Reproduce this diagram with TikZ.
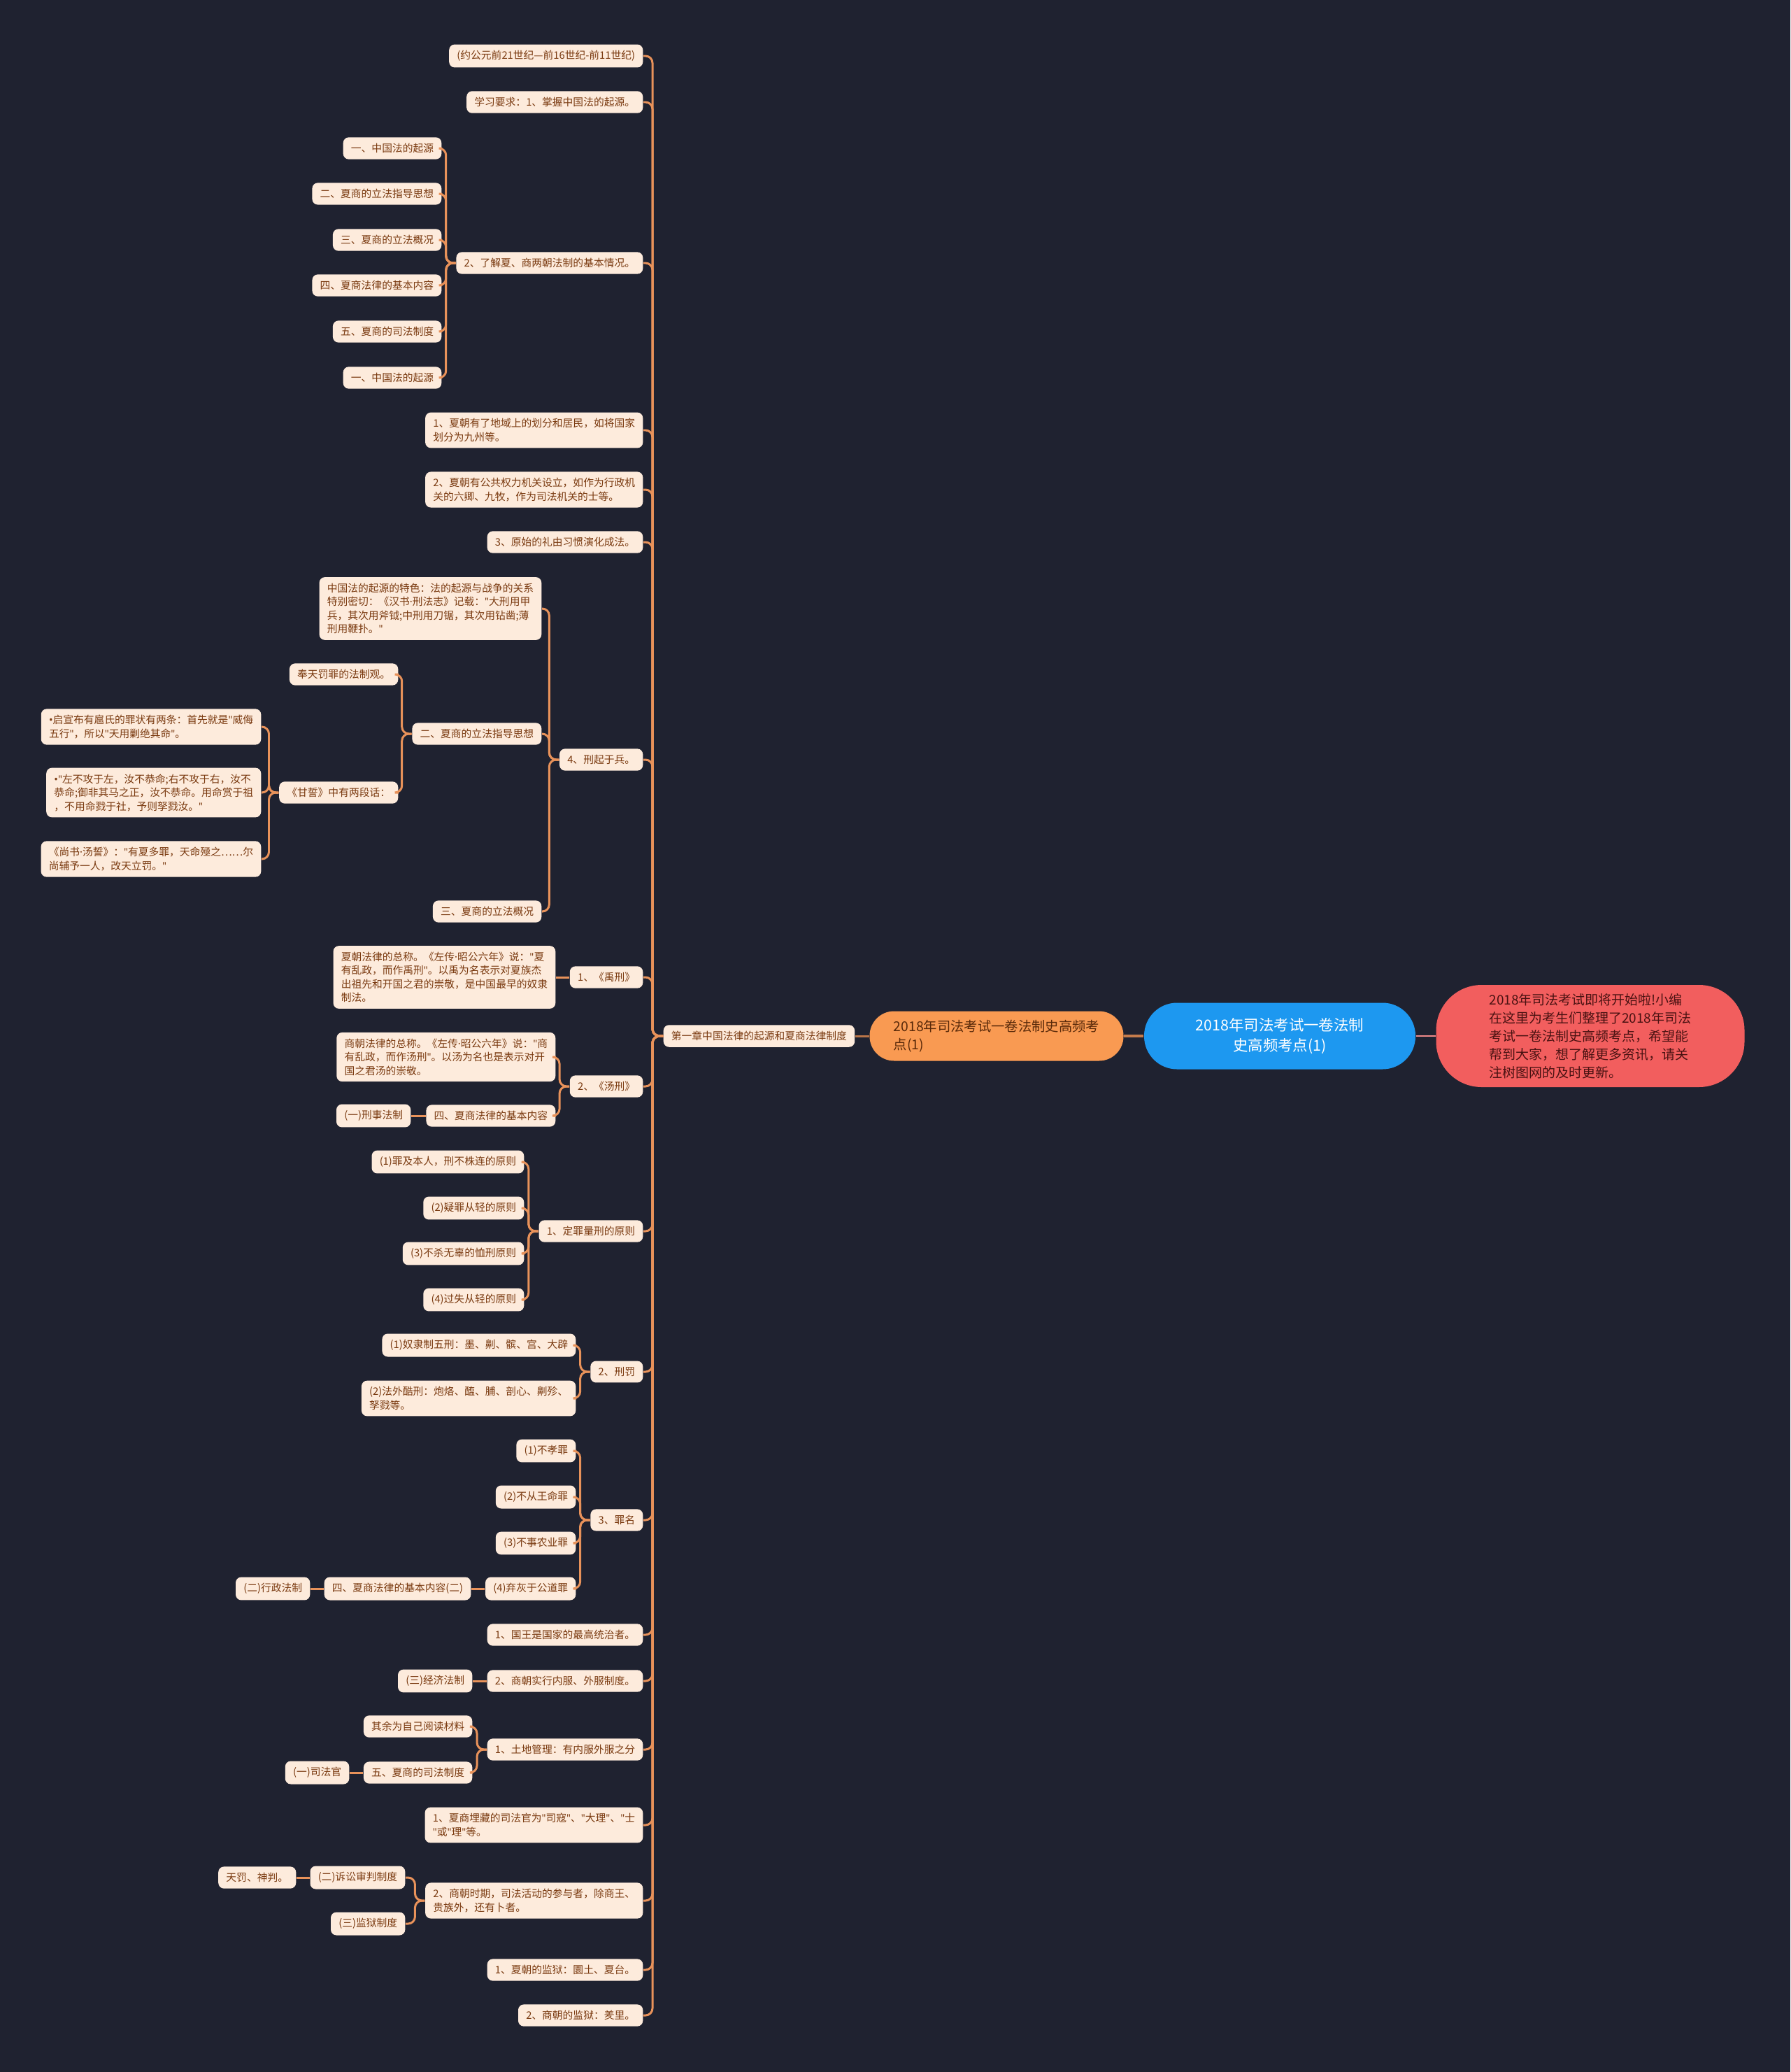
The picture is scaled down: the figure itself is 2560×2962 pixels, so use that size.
\documentclass[tikz,border=0pt]{standalone}
\usepackage{fontspec}
\setmainfont{Noto Sans CJK SC}
\newfontfamily\latinfont{Noto Sans}

\definecolor{bgcol}{HTML}{1F2230}
\definecolor{leaffill}{HTML}{FDEBDC}
\definecolor{leaftext}{HTML}{7A3A10}
\definecolor{linkcol}{HTML}{E8925A}
\definecolor{topicfill}{HTML}{F99A52}
\definecolor{topictext}{HTML}{5A2A0A}
\definecolor{rootfill}{HTML}{1D98F0}
\definecolor{notefill}{HTML}{F25E5E}
\definecolor{notetext}{HTML}{4A1212}
\definecolor{notelink}{HTML}{F08A8A}

\newcommand{\leaffont}{\fontsize{4.2pt}{5.55pt}\selectfont}
\newcommand{\topicfont}{\fontsize{5.5pt}{7.4pt}\selectfont}
\newcommand{\rootfont}{\fontsize{6.1pt}{8.2pt}\selectfont}
\newcommand{\notefont}{\fontsize{5.4pt}{7.4pt}\selectfont}
% narrow quote, middle dot and bullet
\newcommand{\qq}{{\latinfont"}}
\newcommand{\mdot}{{\latinfont·}}
\newcommand{\bul}{{\latinfont•}}

\begin{document}
\begin{tikzpicture}[x=0.1mm, y=-0.1mm,
    leaf/.style={fill=leaffill, text=leaftext, rounded corners=0.8mm, inner xsep=3.2pt, inner ysep=2.5pt, font=\leaffont, align=left},
    link/.style={draw=linkcol, line width=0.85pt, rounded corners=1mm}]
    % Background
    \fill[bgcol] (0,0) rectangle (2560,2962);
    \useasboundingbox (0,0) rectangle (2560,2962);

    % Centre chain
    \node[fill=notefill, text=notetext, rounded corners=6.5mm, minimum width=44.1mm, minimum height=14.6mm, font=\notefont, align=left] (note) at (2274,1481) {2018年司法考试即将开始啦!小编\\在这里为考生们整理了2018年司法\\考试一卷法制史高频考点，希望能\\帮到大家，想了解更多资讯，请关\\注树图网的及时更新。};
    \node[fill=rootfill, text=white, rounded corners=4.7mm, minimum width=38.8mm, minimum height=9.5mm, font=\rootfont, align=center] (root) at (1830,1481) {2018年司法考试一卷法制\\史高频考点(1)};
    \node[fill=topicfill, text=topictext, rounded corners=3.5mm, minimum width=36.3mm, minimum height=7.1mm, font=\topicfont, align=left] (topic) at (1425,1481) {2018年司法考试一卷法制史高频考\\点(1)};
    \node[leaf, anchor=west] (ch) at (948,1481) {第一章中国法律的起源和夏商法律制度};

    \draw[draw=notelink, line width=0.6pt] (root.east) -- (note.west);
    \draw[link, draw=linkcol!85!black, line width=1.1pt] (topic.east) -- (root.west);
    \draw[link, draw=linkcol!80!black] (ch.east) -- (topic.west);

    % Trunk children
    \node[leaf, anchor=east] (t1) at (920,80) {(约公元前21世纪—前16世纪-前11世纪)};
    \node[leaf, anchor=east] (t2) at (920,146) {学习要求：1、掌握中国法的起源。};
    \node[leaf, anchor=east] (t3) at (920,376) {2、了解夏、商两朝法制的基本情况。};
    \node[leaf, anchor=east] (t4) at (920,615) {1、夏朝有了地域上的划分和居民，如将国家\\划分为九州等。};
    \node[leaf, anchor=east] (t5) at (920,700) {2、夏朝有公共权力机关设立，如作为行政机\\关的六卿、九牧，作为司法机关的士等。};
    \node[leaf, anchor=east] (t6) at (920,775) {3、原始的礼由习惯演化成法。};
    \node[leaf, anchor=east] (t7) at (920,1086) {4、刑起于兵。};
    \node[leaf, anchor=east] (t8) at (920,1397) {1、《禹刑》};
    \node[leaf, anchor=east] (t9) at (920,1553) {2、《汤刑》};
    \node[leaf, anchor=east] (t10) at (920,1760) {1、定罪量刑的原则};
    \node[leaf, anchor=east] (t11) at (920,1961) {2、刑罚};
    \node[leaf, anchor=east] (t12) at (920,2173) {3、罪名};
    \node[leaf, anchor=east] (t13) at (920,2337) {1、国王是国家的最高统治者。};
    \node[leaf, anchor=east] (t14) at (920,2403) {2、商朝实行内服、外服制度。};
    \node[leaf, anchor=east] (t15) at (920,2501) {1、土地管理：有内服外服之分};
    \node[leaf, anchor=east] (t16) at (920,2609) {1、夏商埋藏的司法官为\qq 司寇\qq 、\qq 大理\qq 、\qq 士\\\qq 或\qq 理\qq 等。};
    \node[leaf, anchor=east] (t17) at (920,2717) {2、商朝时期，司法活动的参与者，除商王、\\贵族外，还有卜者。};
    \node[leaf, anchor=east] (t18) at (920,2816) {1、夏朝的监狱：圜土、夏台。};
    \node[leaf, anchor=east] (t19) at (920,2881) {2、商朝的监狱：羑里。};

    \foreach \n in {t1,t2,t3,t4,t5,t6,t7,t8,t9,t10,t11,t12,t13,t14,t15,t16,t17,t18,t19}
        \draw[link] (ch.west) -- ++(-15,0) |- (\n.east);

    % 2、了解夏、商两朝法制
    \node[leaf, anchor=east] (a1) at (632,212) {一、中国法的起源};
    \node[leaf, anchor=east] (a2) at (632,277) {二、夏商的立法指导思想};
    \node[leaf, anchor=east] (a3) at (632,343) {三、夏商的立法概况};
    \node[leaf, anchor=east] (a4) at (632,408) {四、夏商法律的基本内容};
    \node[leaf, anchor=east] (a5) at (632,474) {五、夏商的司法制度};
    \node[leaf, anchor=east] (a6) at (632,540) {一、中国法的起源};
    \foreach \n in {a1,a2,a3,a4,a5,a6}
        \draw[link] (t3.west) -- ++(-14,0) |- (\n.east);

    % 4、刑起于兵
    \node[leaf, anchor=east] (b1) at (775,870) {中国法的起源的特色：法的起源与战争的关系\\特别密切：《汉书\mdot 刑法志》记载：\qq 大刑用甲\\兵，其次用斧钺;中刑用刀锯，其次用钻凿;薄\\刑用鞭扑。\qq};
    \node[leaf, anchor=east] (b2) at (775,1049) {二、夏商的立法指导思想};
    \node[leaf, anchor=east] (b3) at (775,1303) {三、夏商的立法概况};
    \foreach \n in {b1,b2,b3}
        \draw[link] (t7.west) -- ++(-14,0) |- (\n.east);

    \node[leaf, anchor=east] (c1) at (570,964) {奉天罚罪的法制观。};
    \node[leaf, anchor=east] (c2) at (570,1133) {《甘誓》中有两段话：};
    \foreach \n in {c1,c2}
        \draw[link] (b2.west) -- ++(-14,0) |- (\n.east);

    \node[leaf, anchor=east] (d1) at (374,1039) {\bul 启宣布有扈氏的罪状有两条：首先就是\qq 威侮\\五行\qq ，所以\qq 天用剿绝其命\qq 。};
    \node[leaf, anchor=east] (d2) at (374,1133) {\bul\qq 左不攻于左，汝不恭命;右不攻于右，汝不\\恭命;御非其马之正，汝不恭命。用命赏于祖\\，不用命戮于社，予则孥戮汝。\qq};
    \node[leaf, anchor=east] (d3) at (374,1228) {《尚书\mdot 汤誓》：\qq 有夏多罪，天命殛之……尔\\尚辅予一人，改天立罚。\qq};
    \foreach \n in {d1,d2,d3}
        \draw[link] (c2.west) -- ++(-14,0) |- (\n.east);

    % 《禹刑》 and 《汤刑》
    \node[leaf, anchor=east] (e1) at (795,1397) {夏朝法律的总称。《左传\mdot 昭公六年》说：\qq 夏\\有乱政，而作禹刑\qq 。以禹为名表示对夏族杰\\出祖先和开国之君的崇敬，是中国最早的奴隶\\制法。};
    \draw[link] (t8.west) -- (e1.east);

    \node[leaf, anchor=east] (f1) at (795,1511) {商朝法律的总称。《左传\mdot 昭公六年》说：\qq 商\\有乱政，而作汤刑\qq 。以汤为名也是表示对开\\国之君汤的崇敬。};
    \node[leaf, anchor=east] (f2) at (795,1595) {四、夏商法律的基本内容};
    \foreach \n in {f1,f2}
        \draw[link] (t9.west) -- ++(-14,0) |- (\n.east);
    \node[leaf, anchor=east] (g1) at (588,1595) {(一)刑事法制};
    \draw[link] (f2.west) -- (g1.east);

    % 定罪量刑的原则
    \node[leaf, anchor=east] (h1) at (750,1661) {(1)罪及本人，刑不株连的原则};
    \node[leaf, anchor=east] (h2) at (750,1727) {(2)疑罪从轻的原则};
    \node[leaf, anchor=east] (h3) at (750,1792) {(3)不杀无辜的恤刑原则};
    \node[leaf, anchor=east] (h4) at (750,1858) {(4)过失从轻的原则};
    \foreach \n in {h1,h2,h3,h4}
        \draw[link] (t10.west) -- ++(-14,0) |- (\n.east);

    % 刑罚
    \node[leaf, anchor=east] (i1) at (824,1923) {(1)奴隶制五刑：墨、劓、髌、宫、大辟};
    \node[leaf, anchor=east] (i2) at (824,1999) {(2)法外酷刑：炮烙、醢、脯、剖心、劓殄、\\孥戮等。};
    \foreach \n in {i1,i2}
        \draw[link] (t11.west) -- ++(-14,0) |- (\n.east);

    % 罪名
    \node[leaf, anchor=east] (j1) at (824,2074) {(1)不孝罪};
    \node[leaf, anchor=east] (j2) at (824,2140) {(2)不从王命罪};
    \node[leaf, anchor=east] (j3) at (824,2206) {(3)不事农业罪};
    \node[leaf, anchor=east] (j4) at (824,2271) {(4)弃灰于公道罪};
    \foreach \n in {j1,j2,j3,j4}
        \draw[link] (t12.west) -- ++(-14,0) |- (\n.east);
    \node[leaf, anchor=east] (k1) at (674,2271) {四、夏商法律的基本内容(二)};
    \node[leaf, anchor=east] (k2) at (444,2271) {(二)行政法制};
    \draw[link] (j4.west) -- (k1.east);
    \draw[link] (k1.west) -- (k2.east);

    % 商朝内服外服
    \node[leaf, anchor=east] (m1) at (676,2403) {(三)经济法制};
    \draw[link] (t14.west) -- (m1.east);

    \node[leaf, anchor=east] (n1) at (676,2468) {其余为自己阅读材料};
    \node[leaf, anchor=east] (n2) at (676,2534) {五、夏商的司法制度};
    \foreach \n in {n1,n2}
        \draw[link] (t15.west) -- ++(-14,0) |- (\n.east);
    \node[leaf, anchor=east] (n3) at (500,2534) {(一)司法官};
    \draw[link] (n2.west) -- (n3.east);

    % 司法活动
    \node[leaf, anchor=east] (p1) at (580,2684) {(二)诉讼审判制度};
    \node[leaf, anchor=east] (p2) at (580,2750) {(三)监狱制度};
    \foreach \n in {p1,p2}
        \draw[link] (t17.west) -- ++(-14,0) |- (\n.east);
    \node[leaf, anchor=east] (p3) at (424,2684) {天罚、神判。};
    \draw[link] (p1.west) -- (p3.east);
\end{tikzpicture}
\end{document}
